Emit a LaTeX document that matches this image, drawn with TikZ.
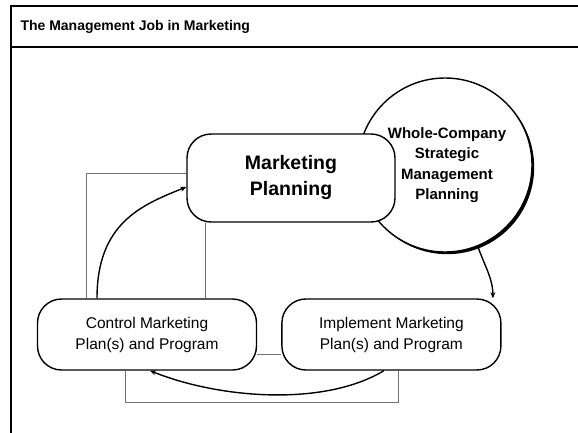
\documentclass[tikz,border=0pt]{standalone}
\usepackage{fontspec}
\setmainfont{Liberation Sans}
\usetikzlibrary{positioning,shapes.geometric,arrows.meta,shadows}

\begin{document}
\begin{tikzpicture}[
    x=1pt, y=-1pt,
    box/.style={rectangle, draw, line width=1.4pt, fill=white, rounded corners=24pt, minimum width=219pt, minimum height=71pt, align=center, font=\fontsize{15.5}{21}\selectfont},
    plan/.style={rectangle, draw, line width=1.4pt, fill=white, rounded corners=24pt, minimum width=208pt, minimum height=88pt, align=center, font=\fontsize{19.5}{26}\selectfont\bfseries},
    whole/.style={circle, draw, line width=1.4pt, fill=white, minimum size=174pt, inner sep=0pt, drop shadow={shadow xshift=2.2pt, shadow yshift=-2.2pt, fill=black, opacity=1}},
    link/.style={draw=black!55, line width=0.6pt},
    arrow/.style={-{Stealth[length=6pt,width=5pt]}, line width=1.4pt}
]
\useasboundingbox (0,0) rectangle (578,433);

% TITULO
\draw[line width=2.5pt] (578,6) -- (11,6) -- (11,433);
\draw[line width=2.5pt] (11,47) -- (578,47);
\node[anchor=west, font=\fontsize{14}{16}\selectfont\bfseries] (ttl) at (17,27) {The Management Job in Marketing};

% NODOS
\node[whole] (W) at (445,165) {};
\node[align=center, font=\fontsize{15}{20.5}\selectfont\bfseries] (Wt) at ([xshift=2pt]W.center) {Whole-Company\\Strategic\\Management\\Planning};
\node[plan] (P) at (291,178) {Marketing\\Planning};
\node[box] (C) at (147,334.5) {Control Marketing\\Plan(s) and Program};
\node[box, right=24pt of C] (I) {Implement Marketing\\Plan(s) and Program};

% Conectores grises
\draw[link] ([xshift=-61pt]C.north) |- ([yshift=5pt]P.west);
\draw[link] ([xshift=-86pt]P.south) -- ([xshift=-86pt]P.south |- C.north);
\draw[link] ([yshift=-19.5pt]C.east) -- ([yshift=-19.5pt]C.east -| I.west);
\draw[link] ([xshift=-22pt]C.south) -- ++(0,32) -| ([xshift=6.5pt]I.south);

% Ciclo principal
\draw[arrow] ([xshift=-50pt]C.north) .. controls +(0,-75) and +(-45,18) .. ([yshift=-9pt]P.west);
\draw[arrow] (W.292) .. controls +(6,18) and +(0,-20) .. ([xshift=101.5pt]I.north);
\draw[arrow] ([xshift=-7.5pt]I.south) .. controls +(-60,36) and +(70,28) .. ([xshift=3pt]C.south);

\end{tikzpicture}
\end{document}
